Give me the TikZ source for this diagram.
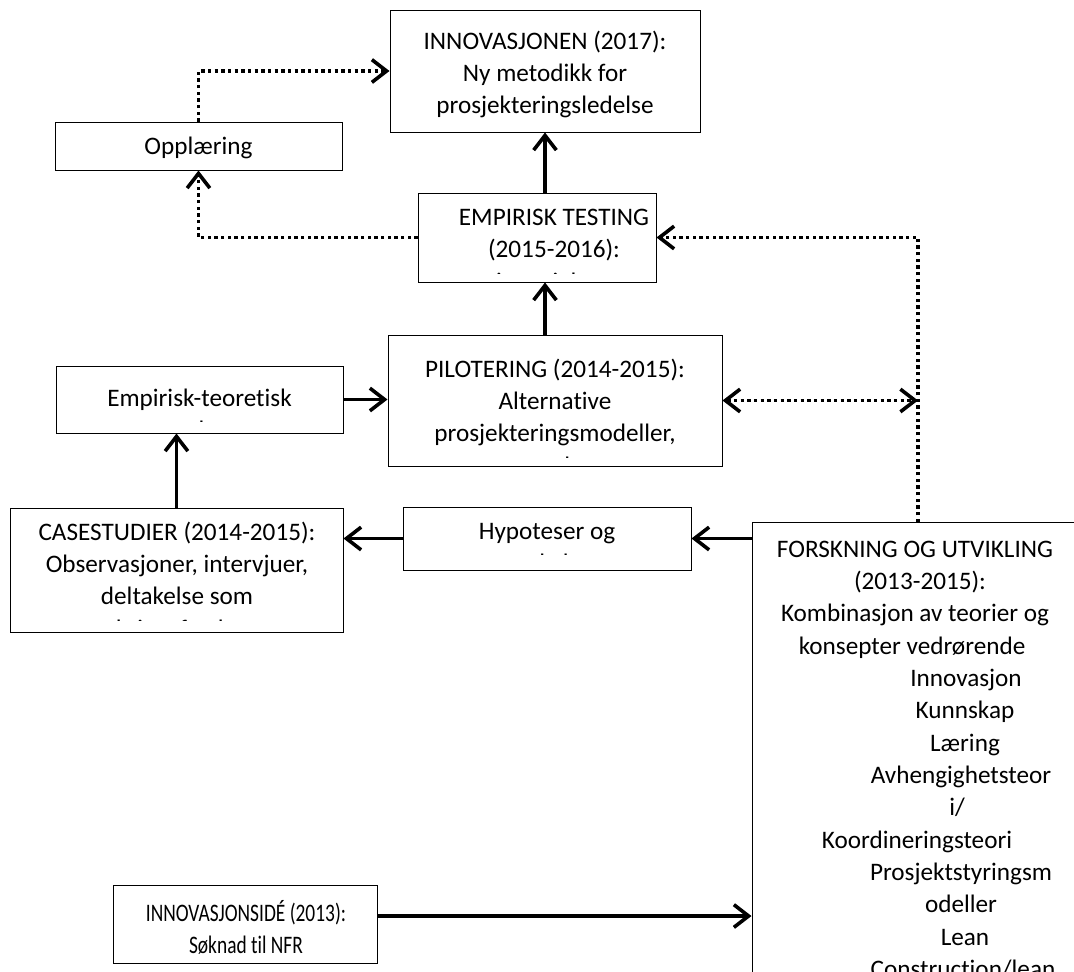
\documentclass[tikz,border=0pt]{standalone}
\usepackage{fontspec}
\setmainfont{Carlito}[Ligatures={TeX,NoCommon}]
\usetikzlibrary{arrows.meta,fit,calc}

\begin{document}
\begin{tikzpicture}[x=0.75pt,y=-0.75pt,
  box/.style={draw=black, line width=0.75pt, inner sep=0pt, fill=white},
  txt/.style={anchor=base, inner sep=0pt, font=\fontsize{18.9pt}{24.3pt}\selectfont},
  flow/.style={line width=2.7pt, -{Straight Barb[length=11pt,width=17pt]}},
  dotflow/.style={line width=2.7pt, dash pattern=on 2.5pt off 2.5pt, -{Straight Barb[length=11pt,width=17pt]}},
  dotboth/.style={line width=2.7pt, dash pattern=on 2.5pt off 2.5pt, {Straight Barb[length=11pt,width=17pt]}-{Straight Barb[length=11pt,width=17pt]}}]

\useasboundingbox (0,0) rectangle (1074,971);
\clip (0,0) rectangle (1074,971);

% boxes
\node[box, fit={(390,10) (700,132)}]   (innov) {};
\node[box, fit={(55,122) (342,170)}]   (opp)   {};
\node[box, fit={(418,193) (656,282)}]  (emp)   {};
\node[box, fit={(388,335) (722,466)}]  (pil)   {};
\node[box, fit={(56,366) (343,433)}]   (et)    {};
\node[box, fit={(10,508) (343,632)}]   (case)  {};
\node[box, fit={(403,507) (691,570)}]  (hyp)   {};
\node[box, fit={(752,522) (1090,1000)}] (fou)  {};
\node[box, fit={(113,885) (377,963)}]  (idea)  {};

% box texts, cut off where the box runs out of room
\begin{scope}
  \clip (390,10) rectangle (700,132);
  \foreach \t [count=\i from 0] in {INNOVASJONEN (2017):, Ny metodikk for, prosjekteringsledelse}
    \node[txt] (innov-\i) at (545, 49+32.4*\i) {\t};
\end{scope}
\node[txt] (opp-0) at (198.5, 154) {Opplæring};
\begin{scope}
  \clip (418,193) rectangle (656,273);
  \foreach \t [count=\i from 0] in {EMPIRISK TESTING, (2015-2016):, i prosjekter}
    \node[txt] (emp-\i) at (554, 225.5+32.4*\i) {\t};
\end{scope}
\begin{scope}
  \clip (388,335) rectangle (722,457);
  \foreach \t [count=\i from 0] in {PILOTERING (2014-2015):, Alternative, {prosjekteringsmodeller,}, og verktøy}
    \node[txt] (pil-\i) at (555, 377+32.4*\i) {\t};
\end{scope}
\begin{scope}
  \clip (56,366) rectangle (343,421);
  \foreach \t [count=\i from 0] in {Empirisk-teoretisk, analyse}
    \node[txt] (et-\i) at (199.5, 406+32.4*\i) {\t};
\end{scope}
\begin{scope}
  \clip (10,508) rectangle (343,620);
  \foreach \t [count=\i from 0] in {CASESTUDIER (2014-2015):, {Observasjoner, intervjuer,}, deltakelse som, aksjonsforsker}
    \node[txt] (case-\i) at (177, 540+32.4*\i) {\t};
\end{scope}
\begin{scope}
  \clip (403,507) rectangle (691,554);
  \foreach \t [count=\i from 0] in {Hypoteser og, antakelser}
    \node[txt] (hyp-\i) at (547, 539+32.4*\i) {\t};
\end{scope}
\begin{scope}
  \clip (752,522) rectangle (1074,971);
  \foreach \x/\t [count=\i from 0] in {
      915/{FORSKNING OG UTVIKLING}, 920/{(2013-2015):}, 915/{Kombinasjon av teorier og},
      912/{konsepter vedrørende}, 966/{Innovasjon}, 965/{Kunnskap}, 965/{Læring},
      961/{Avhengighetsteor}, 957/{i/}, 917/{Koordineringsteori}, 961/{Prosjektstyringsm},
      961/{odeller}, 965/{Lean}, 963/{Construction/lean}}
    \node[txt] (fou-\i) at (\x, 557+32.35*\i) {\t};
\end{scope}
\foreach \t [count=\i from 0] in {INNOVASJONSIDÉ (2013):, Søknad til NFR}
  \node[txt] (idea-\i) at (246, 921+32.4*\i) {\scalebox{0.77}[1]{\t}};

% connectors
\coordinate (tap) at (918,522);
\draw[flow] (innov.south |- emp.north) -- (innov.south);
\draw[flow] (innov.south |- pil.north) -- (innov.south |- emp.south);
\draw[flow] (et.east) -- (et.east -| pil.west);
\draw[flow] (case.north) -- (case.north |- et.south);
\draw[flow] (hyp.west) -- (hyp.west -| case.east);
\draw[flow] (hyp.east -| fou.west) -- (hyp.east);
\draw[flow] ([yshift=6pt]idea.east) -- ([yshift=6pt]idea.east -| fou.west);

\draw[dotflow] (opp.north) |- (innov.west);
\draw[dotflow] (emp.west) -| (opp.south);
\draw[dotflow] (tap) |- (emp.east);
\draw[dotboth] (pil.east) -- (pil.east -| tap);
\end{tikzpicture}
\end{document}
